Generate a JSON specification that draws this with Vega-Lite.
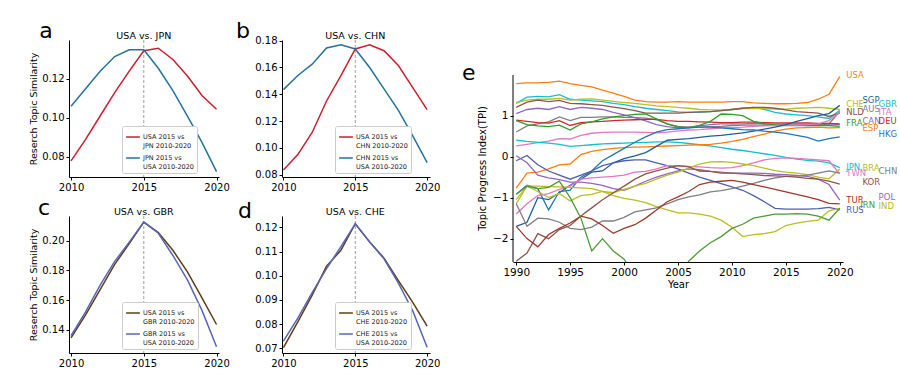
{
"$schema": "https://vega.github.io/schema/vega-lite/v6.json",
"padding": {"left": 28, "top": 19, "right": 2, "bottom": 2},
"config": {
  "font": "DejaVu Sans",
  "view": {"stroke": null},
  "axis": {"grid": false, "domainColor": "black", "tickColor": "black", "labelColor": "black", "titleColor": "black", "labelFontSize": 10, "titleFontSize": 9.5, "titleFontWeight": "normal", "tickSize": 3, "labelPadding": 2, "titlePadding": 3, "labelOverlap": false, "labelFlush": false, "tickCount": 12},
  "legend": {"orient": "none", "legendX": 53, "legendY": 86, "labelFontSize": 6.5, "symbolType": "stroke", "symbolStrokeWidth": 1.5, "symbolSize": 190, "strokeColor": "#cccccc", "fillColor": "white", "padding": 3, "rowPadding": 1, "labelOffset": 2, "cornerRadius": 2, "labelLimit": 200, "labelColor": "#222222"}
},
"resolve": {"scale": {"color": "independent", "x": "independent", "y": "independent"}, "legend": {"color": "independent"}},
"datasets": {
  "a": [
    {"s":"USA 2015 vs JPN 2010-2020","x":2010,"v":0.078},{"s":"USA 2015 vs JPN 2010-2020","x":2011,"v":0.089},{"s":"USA 2015 vs JPN 2010-2020","x":2012,"v":0.101},{"s":"USA 2015 vs JPN 2010-2020","x":2013,"v":0.113},{"s":"USA 2015 vs JPN 2010-2020","x":2014,"v":0.124},{"s":"USA 2015 vs JPN 2010-2020","x":2015,"v":0.1345},{"s":"USA 2015 vs JPN 2010-2020","x":2016,"v":0.1358},{"s":"USA 2015 vs JPN 2010-2020","x":2017,"v":0.130},{"s":"USA 2015 vs JPN 2010-2020","x":2018,"v":0.1215},{"s":"USA 2015 vs JPN 2010-2020","x":2019,"v":0.1115},{"s":"USA 2015 vs JPN 2010-2020","x":2020,"v":0.1045},
    {"s":"JPN 2015 vs USA 2010-2020","x":2010,"v":0.106},{"s":"JPN 2015 vs USA 2010-2020","x":2011,"v":0.115},{"s":"JPN 2015 vs USA 2010-2020","x":2012,"v":0.124},{"s":"JPN 2015 vs USA 2010-2020","x":2013,"v":0.1315},{"s":"JPN 2015 vs USA 2010-2020","x":2014,"v":0.135},{"s":"JPN 2015 vs USA 2010-2020","x":2015,"v":0.135},{"s":"JPN 2015 vs USA 2010-2020","x":2016,"v":0.1255},{"s":"JPN 2015 vs USA 2010-2020","x":2017,"v":0.114},{"s":"JPN 2015 vs USA 2010-2020","x":2018,"v":0.101},{"s":"JPN 2015 vs USA 2010-2020","x":2019,"v":0.0875},{"s":"JPN 2015 vs USA 2010-2020","x":2020,"v":0.0725}
  ],
  "b": [
    {"s":"USA 2015 vs CHN 2010-2020","x":2010,"v":0.0835},{"s":"USA 2015 vs CHN 2010-2020","x":2011,"v":0.095},{"s":"USA 2015 vs CHN 2010-2020","x":2012,"v":0.1115},{"s":"USA 2015 vs CHN 2010-2020","x":2013,"v":0.135},{"s":"USA 2015 vs CHN 2010-2020","x":2014,"v":0.154},{"s":"USA 2015 vs CHN 2010-2020","x":2015,"v":0.1738},{"s":"USA 2015 vs CHN 2010-2020","x":2016,"v":0.177},{"s":"USA 2015 vs CHN 2010-2020","x":2017,"v":0.1725},{"s":"USA 2015 vs CHN 2010-2020","x":2018,"v":0.1615},{"s":"USA 2015 vs CHN 2010-2020","x":2019,"v":0.145},{"s":"USA 2015 vs CHN 2010-2020","x":2020,"v":0.1285},
    {"s":"CHN 2015 vs USA 2010-2020","x":2010,"v":0.1435},{"s":"CHN 2015 vs USA 2010-2020","x":2011,"v":0.154},{"s":"CHN 2015 vs USA 2010-2020","x":2012,"v":0.1625},{"s":"CHN 2015 vs USA 2010-2020","x":2013,"v":0.1745},{"s":"CHN 2015 vs USA 2010-2020","x":2014,"v":0.177},{"s":"CHN 2015 vs USA 2010-2020","x":2015,"v":0.1738},{"s":"CHN 2015 vs USA 2010-2020","x":2016,"v":0.160},{"s":"CHN 2015 vs USA 2010-2020","x":2017,"v":0.144},{"s":"CHN 2015 vs USA 2010-2020","x":2018,"v":0.128},{"s":"CHN 2015 vs USA 2010-2020","x":2019,"v":0.109},{"s":"CHN 2015 vs USA 2010-2020","x":2020,"v":0.089}
  ],
  "c": [
    {"s":"USA 2015 vs GBR 2010-2020","x":2010,"v":0.1345},{"s":"USA 2015 vs GBR 2010-2020","x":2011,"v":0.150},{"s":"USA 2015 vs GBR 2010-2020","x":2012,"v":0.167},{"s":"USA 2015 vs GBR 2010-2020","x":2013,"v":0.184},{"s":"USA 2015 vs GBR 2010-2020","x":2014,"v":0.198},{"s":"USA 2015 vs GBR 2010-2020","x":2015,"v":0.2125},{"s":"USA 2015 vs GBR 2010-2020","x":2016,"v":0.2055},{"s":"USA 2015 vs GBR 2010-2020","x":2017,"v":0.1935},{"s":"USA 2015 vs GBR 2010-2020","x":2018,"v":0.179},{"s":"USA 2015 vs GBR 2010-2020","x":2019,"v":0.1615},{"s":"USA 2015 vs GBR 2010-2020","x":2020,"v":0.1435},
    {"s":"GBR 2015 vs USA 2010-2020","x":2010,"v":0.136},{"s":"GBR 2015 vs USA 2010-2020","x":2011,"v":0.152},{"s":"GBR 2015 vs USA 2010-2020","x":2012,"v":0.170},{"s":"GBR 2015 vs USA 2010-2020","x":2013,"v":0.186},{"s":"GBR 2015 vs USA 2010-2020","x":2014,"v":0.199},{"s":"GBR 2015 vs USA 2010-2020","x":2015,"v":0.2125},{"s":"GBR 2015 vs USA 2010-2020","x":2016,"v":0.205},{"s":"GBR 2015 vs USA 2010-2020","x":2017,"v":0.190},{"s":"GBR 2015 vs USA 2010-2020","x":2018,"v":0.1735},{"s":"GBR 2015 vs USA 2010-2020","x":2019,"v":0.153},{"s":"GBR 2015 vs USA 2010-2020","x":2020,"v":0.1285}
  ],
  "d": [
    {"s":"USA 2015 vs CHE 2010-2020","x":2010,"v":0.0703},{"s":"USA 2015 vs CHE 2010-2020","x":2011,"v":0.081},{"s":"USA 2015 vs CHE 2010-2020","x":2012,"v":0.092},{"s":"USA 2015 vs CHE 2010-2020","x":2013,"v":0.104},{"s":"USA 2015 vs CHE 2010-2020","x":2014,"v":0.1105},{"s":"USA 2015 vs CHE 2010-2020","x":2015,"v":0.1215},{"s":"USA 2015 vs CHE 2010-2020","x":2016,"v":0.114},{"s":"USA 2015 vs CHE 2010-2020","x":2017,"v":0.1073},{"s":"USA 2015 vs CHE 2010-2020","x":2018,"v":0.098},{"s":"USA 2015 vs CHE 2010-2020","x":2019,"v":0.089},{"s":"USA 2015 vs CHE 2010-2020","x":2020,"v":0.0792},
    {"s":"CHE 2015 vs USA 2010-2020","x":2010,"v":0.073},{"s":"CHE 2015 vs USA 2010-2020","x":2011,"v":0.0825},{"s":"CHE 2015 vs USA 2010-2020","x":2012,"v":0.093},{"s":"CHE 2015 vs USA 2010-2020","x":2013,"v":0.103},{"s":"CHE 2015 vs USA 2010-2020","x":2014,"v":0.112},{"s":"CHE 2015 vs USA 2010-2020","x":2015,"v":0.1215},{"s":"CHE 2015 vs USA 2010-2020","x":2016,"v":0.114},{"s":"CHE 2015 vs USA 2010-2020","x":2017,"v":0.107},{"s":"CHE 2015 vs USA 2010-2020","x":2018,"v":0.097},{"s":"CHE 2015 vs USA 2010-2020","x":2019,"v":0.0855},{"s":"CHE 2015 vs USA 2010-2020","x":2020,"v":0.0705}
  ],
  "e": [
    {"c":"USA","t":1990,"v":1.78},{"c":"USA","t":1991,"v":1.80},{"c":"USA","t":1992,"v":1.80},{"c":"USA","t":1993,"v":1.81},{"c":"USA","t":1994,"v":1.84},{"c":"USA","t":1995,"v":1.78},{"c":"USA","t":1996,"v":1.74},{"c":"USA","t":1997,"v":1.70},{"c":"USA","t":1998,"v":1.62},{"c":"USA","t":1999,"v":1.55},{"c":"USA","t":2000,"v":1.47},{"c":"USA","t":2001,"v":1.38},{"c":"USA","t":2002,"v":1.34},{"c":"USA","t":2003,"v":1.33},{"c":"USA","t":2004,"v":1.33},{"c":"USA","t":2005,"v":1.34},{"c":"USA","t":2006,"v":1.33},{"c":"USA","t":2007,"v":1.33},{"c":"USA","t":2008,"v":1.33},{"c":"USA","t":2009,"v":1.33},{"c":"USA","t":2010,"v":1.34},{"c":"USA","t":2011,"v":1.34},{"c":"USA","t":2012,"v":1.31},{"c":"USA","t":2013,"v":1.30},{"c":"USA","t":2014,"v":1.29},{"c":"USA","t":2015,"v":1.29},{"c":"USA","t":2016,"v":1.30},{"c":"USA","t":2017,"v":1.32},{"c":"USA","t":2018,"v":1.40},{"c":"USA","t":2019,"v":1.52},{"c":"USA","t":2020,"v":1.95},
    {"c":"GBR","t":1990,"v":1.30},{"c":"GBR","t":1991,"v":1.45},{"c":"GBR","t":1992,"v":1.47},{"c":"GBR","t":1993,"v":1.46},{"c":"GBR","t":1994,"v":1.51},{"c":"GBR","t":1995,"v":1.40},{"c":"GBR","t":1996,"v":1.38},{"c":"GBR","t":1997,"v":1.36},{"c":"GBR","t":1998,"v":1.34},{"c":"GBR","t":1999,"v":1.30},{"c":"GBR","t":2000,"v":1.27},{"c":"GBR","t":2001,"v":1.22},{"c":"GBR","t":2002,"v":1.18},{"c":"GBR","t":2003,"v":1.15},{"c":"GBR","t":2004,"v":1.12},{"c":"GBR","t":2005,"v":1.09},{"c":"GBR","t":2006,"v":1.08},{"c":"GBR","t":2007,"v":1.08},{"c":"GBR","t":2008,"v":1.10},{"c":"GBR","t":2009,"v":1.12},{"c":"GBR","t":2010,"v":1.15},{"c":"GBR","t":2011,"v":1.18},{"c":"GBR","t":2012,"v":1.20},{"c":"GBR","t":2013,"v":1.15},{"c":"GBR","t":2014,"v":1.08},{"c":"GBR","t":2015,"v":1.04},{"c":"GBR","t":2016,"v":1.02},{"c":"GBR","t":2017,"v":1.00},{"c":"GBR","t":2018,"v":0.97},{"c":"GBR","t":2019,"v":0.93},{"c":"GBR","t":2020,"v":1.13},
    {"c":"CHE","t":1990,"v":1.32},{"c":"CHE","t":1991,"v":1.38},{"c":"CHE","t":1992,"v":1.40},{"c":"CHE","t":1993,"v":1.40},{"c":"CHE","t":1994,"v":1.42},{"c":"CHE","t":1995,"v":1.38},{"c":"CHE","t":1996,"v":1.40},{"c":"CHE","t":1997,"v":1.41},{"c":"CHE","t":1998,"v":1.38},{"c":"CHE","t":1999,"v":1.35},{"c":"CHE","t":2000,"v":1.32},{"c":"CHE","t":2001,"v":1.30},{"c":"CHE","t":2002,"v":1.27},{"c":"CHE","t":2003,"v":1.24},{"c":"CHE","t":2004,"v":1.22},{"c":"CHE","t":2005,"v":1.20},{"c":"CHE","t":2006,"v":1.18},{"c":"CHE","t":2007,"v":1.15},{"c":"CHE","t":2008,"v":1.14},{"c":"CHE","t":2009,"v":1.14},{"c":"CHE","t":2010,"v":1.15},{"c":"CHE","t":2011,"v":1.17},{"c":"CHE","t":2012,"v":1.18},{"c":"CHE","t":2013,"v":1.17},{"c":"CHE","t":2014,"v":1.16},{"c":"CHE","t":2015,"v":1.16},{"c":"CHE","t":2016,"v":1.18},{"c":"CHE","t":2017,"v":1.19},{"c":"CHE","t":2018,"v":1.20},{"c":"CHE","t":2019,"v":1.18},{"c":"CHE","t":2020,"v":1.15},
    {"c":"NLD","t":1990,"v":1.20},{"c":"NLD","t":1991,"v":1.33},{"c":"NLD","t":1992,"v":1.38},{"c":"NLD","t":1993,"v":1.34},{"c":"NLD","t":1994,"v":1.37},{"c":"NLD","t":1995,"v":1.30},{"c":"NLD","t":1996,"v":1.29},{"c":"NLD","t":1997,"v":1.27},{"c":"NLD","t":1998,"v":1.25},{"c":"NLD","t":1999,"v":1.21},{"c":"NLD","t":2000,"v":1.17},{"c":"NLD","t":2001,"v":1.12},{"c":"NLD","t":2002,"v":1.06},{"c":"NLD","t":2003,"v":1.06},{"c":"NLD","t":2004,"v":1.06},{"c":"NLD","t":2005,"v":1.06},{"c":"NLD","t":2006,"v":1.08},{"c":"NLD","t":2007,"v":1.09},{"c":"NLD","t":2008,"v":1.10},{"c":"NLD","t":2009,"v":1.12},{"c":"NLD","t":2010,"v":1.15},{"c":"NLD","t":2011,"v":1.18},{"c":"NLD","t":2012,"v":1.20},{"c":"NLD","t":2013,"v":1.20},{"c":"NLD","t":2014,"v":1.18},{"c":"NLD","t":2015,"v":1.14},{"c":"NLD","t":2016,"v":1.10},{"c":"NLD","t":2017,"v":1.08},{"c":"NLD","t":2018,"v":1.06},{"c":"NLD","t":2019,"v":0.98},{"c":"NLD","t":2020,"v":1.06},
    {"c":"CAN","t":1990,"v":1.05},{"c":"CAN","t":1991,"v":1.15},{"c":"CAN","t":1992,"v":1.18},{"c":"CAN","t":1993,"v":1.15},{"c":"CAN","t":1994,"v":1.22},{"c":"CAN","t":1995,"v":1.15},{"c":"CAN","t":1996,"v":1.20},{"c":"CAN","t":1997,"v":1.18},{"c":"CAN","t":1998,"v":1.15},{"c":"CAN","t":1999,"v":1.08},{"c":"CAN","t":2000,"v":1.02},{"c":"CAN","t":2001,"v":0.95},{"c":"CAN","t":2002,"v":0.87},{"c":"CAN","t":2003,"v":0.78},{"c":"CAN","t":2004,"v":0.73},{"c":"CAN","t":2005,"v":0.70},{"c":"CAN","t":2006,"v":0.72},{"c":"CAN","t":2007,"v":0.75},{"c":"CAN","t":2008,"v":0.78},{"c":"CAN","t":2009,"v":0.80},{"c":"CAN","t":2010,"v":0.80},{"c":"CAN","t":2011,"v":0.80},{"c":"CAN","t":2012,"v":0.81},{"c":"CAN","t":2013,"v":0.80},{"c":"CAN","t":2014,"v":0.78},{"c":"CAN","t":2015,"v":0.77},{"c":"CAN","t":2016,"v":0.77},{"c":"CAN","t":2017,"v":0.78},{"c":"CAN","t":2018,"v":0.79},{"c":"CAN","t":2019,"v":0.80},{"c":"CAN","t":2020,"v":0.78},
    {"c":"AUS","t":1990,"v":0.60},{"c":"AUS","t":1991,"v":0.75},{"c":"AUS","t":1992,"v":0.80},{"c":"AUS","t":1993,"v":0.85},{"c":"AUS","t":1994,"v":0.97},{"c":"AUS","t":1995,"v":0.88},{"c":"AUS","t":1996,"v":0.96},{"c":"AUS","t":1997,"v":0.96},{"c":"AUS","t":1998,"v":0.97},{"c":"AUS","t":1999,"v":0.97},{"c":"AUS","t":2000,"v":0.96},{"c":"AUS","t":2001,"v":0.95},{"c":"AUS","t":2002,"v":0.94},{"c":"AUS","t":2003,"v":0.90},{"c":"AUS","t":2004,"v":0.80},{"c":"AUS","t":2005,"v":0.74},{"c":"AUS","t":2006,"v":0.72},{"c":"AUS","t":2007,"v":0.72},{"c":"AUS","t":2008,"v":0.73},{"c":"AUS","t":2009,"v":0.74},{"c":"AUS","t":2010,"v":0.76},{"c":"AUS","t":2011,"v":0.77},{"c":"AUS","t":2012,"v":0.77},{"c":"AUS","t":2013,"v":0.77},{"c":"AUS","t":2014,"v":0.76},{"c":"AUS","t":2015,"v":0.76},{"c":"AUS","t":2016,"v":0.76},{"c":"AUS","t":2017,"v":0.76},{"c":"AUS","t":2018,"v":0.77},{"c":"AUS","t":2019,"v":0.80},{"c":"AUS","t":2020,"v":1.10},
    {"c":"DEU","t":1990,"v":0.89},{"c":"DEU","t":1991,"v":0.86},{"c":"DEU","t":1992,"v":0.83},{"c":"DEU","t":1993,"v":0.82},{"c":"DEU","t":1994,"v":0.88},{"c":"DEU","t":1995,"v":0.76},{"c":"DEU","t":1996,"v":0.83},{"c":"DEU","t":1997,"v":0.85},{"c":"DEU","t":1998,"v":0.86},{"c":"DEU","t":1999,"v":0.88},{"c":"DEU","t":2000,"v":0.89},{"c":"DEU","t":2001,"v":0.90},{"c":"DEU","t":2002,"v":0.91},{"c":"DEU","t":2003,"v":0.91},{"c":"DEU","t":2004,"v":0.88},{"c":"DEU","t":2005,"v":0.86},{"c":"DEU","t":2006,"v":0.86},{"c":"DEU","t":2007,"v":0.85},{"c":"DEU","t":2008,"v":0.84},{"c":"DEU","t":2009,"v":0.83},{"c":"DEU","t":2010,"v":0.83},{"c":"DEU","t":2011,"v":0.84},{"c":"DEU","t":2012,"v":0.84},{"c":"DEU","t":2013,"v":0.83},{"c":"DEU","t":2014,"v":0.82},{"c":"DEU","t":2015,"v":0.82},{"c":"DEU","t":2016,"v":0.82},{"c":"DEU","t":2017,"v":0.82},{"c":"DEU","t":2018,"v":0.81},{"c":"DEU","t":2019,"v":0.81},{"c":"DEU","t":2020,"v":0.80},
    {"c":"FRA","t":1990,"v":0.88},{"c":"FRA","t":1991,"v":0.78},{"c":"FRA","t":1992,"v":0.75},{"c":"FRA","t":1993,"v":0.73},{"c":"FRA","t":1994,"v":0.77},{"c":"FRA","t":1995,"v":0.65},{"c":"FRA","t":1996,"v":0.80},{"c":"FRA","t":1997,"v":0.85},{"c":"FRA","t":1998,"v":0.92},{"c":"FRA","t":1999,"v":0.97},{"c":"FRA","t":2000,"v":1.00},{"c":"FRA","t":2001,"v":1.03},{"c":"FRA","t":2002,"v":1.04},{"c":"FRA","t":2003,"v":0.92},{"c":"FRA","t":2004,"v":0.80},{"c":"FRA","t":2005,"v":0.72},{"c":"FRA","t":2006,"v":0.70},{"c":"FRA","t":2007,"v":0.76},{"c":"FRA","t":2008,"v":0.86},{"c":"FRA","t":2009,"v":1.04},{"c":"FRA","t":2010,"v":1.03},{"c":"FRA","t":2011,"v":1.00},{"c":"FRA","t":2012,"v":0.86},{"c":"FRA","t":2013,"v":0.80},{"c":"FRA","t":2014,"v":0.78},{"c":"FRA","t":2015,"v":0.77},{"c":"FRA","t":2016,"v":0.77},{"c":"FRA","t":2017,"v":0.76},{"c":"FRA","t":2018,"v":0.76},{"c":"FRA","t":2019,"v":0.76},{"c":"FRA","t":2020,"v":0.74},
    {"c":"ITA","t":1990,"v":0.26},{"c":"ITA","t":1991,"v":0.30},{"c":"ITA","t":1992,"v":0.34},{"c":"ITA","t":1993,"v":0.38},{"c":"ITA","t":1994,"v":0.44},{"c":"ITA","t":1995,"v":0.43},{"c":"ITA","t":1996,"v":0.52},{"c":"ITA","t":1997,"v":0.57},{"c":"ITA","t":1998,"v":0.59},{"c":"ITA","t":1999,"v":0.60},{"c":"ITA","t":2000,"v":0.60},{"c":"ITA","t":2001,"v":0.60},{"c":"ITA","t":2002,"v":0.59},{"c":"ITA","t":2003,"v":0.58},{"c":"ITA","t":2004,"v":0.60},{"c":"ITA","t":2005,"v":0.63},{"c":"ITA","t":2006,"v":0.65},{"c":"ITA","t":2007,"v":0.66},{"c":"ITA","t":2008,"v":0.68},{"c":"ITA","t":2009,"v":0.70},{"c":"ITA","t":2010,"v":0.71},{"c":"ITA","t":2011,"v":0.72},{"c":"ITA","t":2012,"v":0.74},{"c":"ITA","t":2013,"v":0.75},{"c":"ITA","t":2014,"v":0.76},{"c":"ITA","t":2015,"v":0.77},{"c":"ITA","t":2016,"v":0.77},{"c":"ITA","t":2017,"v":0.78},{"c":"ITA","t":2018,"v":0.80},{"c":"ITA","t":2019,"v":0.88},{"c":"ITA","t":2020,"v":1.08},
    {"c":"JPN","t":1990,"v":0.40},{"c":"JPN","t":1991,"v":0.37},{"c":"JPN","t":1992,"v":0.35},{"c":"JPN","t":1993,"v":0.33},{"c":"JPN","t":1994,"v":0.30},{"c":"JPN","t":1995,"v":0.25},{"c":"JPN","t":1996,"v":0.27},{"c":"JPN","t":1997,"v":0.29},{"c":"JPN","t":1998,"v":0.31},{"c":"JPN","t":1999,"v":0.32},{"c":"JPN","t":2000,"v":0.33},{"c":"JPN","t":2001,"v":0.34},{"c":"JPN","t":2002,"v":0.35},{"c":"JPN","t":2003,"v":0.36},{"c":"JPN","t":2004,"v":0.36},{"c":"JPN","t":2005,"v":0.35},{"c":"JPN","t":2006,"v":0.32},{"c":"JPN","t":2007,"v":0.29},{"c":"JPN","t":2008,"v":0.26},{"c":"JPN","t":2009,"v":0.22},{"c":"JPN","t":2010,"v":0.18},{"c":"JPN","t":2011,"v":0.15},{"c":"JPN","t":2012,"v":0.11},{"c":"JPN","t":2013,"v":0.07},{"c":"JPN","t":2014,"v":0.03},{"c":"JPN","t":2015,"v":-0.02},{"c":"JPN","t":2016,"v":-0.06},{"c":"JPN","t":2017,"v":-0.09},{"c":"JPN","t":2018,"v":-0.11},{"c":"JPN","t":2019,"v":-0.15},{"c":"JPN","t":2020,"v":-0.27},
    {"c":"ESP","t":1990,"v":-0.77},{"c":"ESP","t":1991,"v":-0.40},{"c":"ESP","t":1992,"v":-0.38},{"c":"ESP","t":1993,"v":-0.30},{"c":"ESP","t":1994,"v":-0.20},{"c":"ESP","t":1995,"v":-0.18},{"c":"ESP","t":1996,"v":0.05},{"c":"ESP","t":1997,"v":0.13},{"c":"ESP","t":1998,"v":0.17},{"c":"ESP","t":1999,"v":0.20},{"c":"ESP","t":2000,"v":0.22},{"c":"ESP","t":2001,"v":0.23},{"c":"ESP","t":2002,"v":0.24},{"c":"ESP","t":2003,"v":0.25},{"c":"ESP","t":2004,"v":0.26},{"c":"ESP","t":2005,"v":0.27},{"c":"ESP","t":2006,"v":0.28},{"c":"ESP","t":2007,"v":0.29},{"c":"ESP","t":2008,"v":0.30},{"c":"ESP","t":2009,"v":0.33},{"c":"ESP","t":2010,"v":0.37},{"c":"ESP","t":2011,"v":0.42},{"c":"ESP","t":2012,"v":0.49},{"c":"ESP","t":2013,"v":0.55},{"c":"ESP","t":2014,"v":0.62},{"c":"ESP","t":2015,"v":0.67},{"c":"ESP","t":2016,"v":0.70},{"c":"ESP","t":2017,"v":0.71},{"c":"ESP","t":2018,"v":0.72},{"c":"ESP","t":2019,"v":0.70},{"c":"ESP","t":2020,"v":0.71},
    {"c":"SGP","t":1990,"v":-1.70},{"c":"SGP","t":1991,"v":-1.60},{"c":"SGP","t":1992,"v":-1.00},{"c":"SGP","t":1993,"v":-1.05},{"c":"SGP","t":1994,"v":-0.88},{"c":"SGP","t":1995,"v":-0.70},{"c":"SGP","t":1996,"v":-0.55},{"c":"SGP","t":1997,"v":-0.38},{"c":"SGP","t":1998,"v":-0.35},{"c":"SGP","t":1999,"v":-0.15},{"c":"SGP","t":2000,"v":-0.05},{"c":"SGP","t":2001,"v":0.02},{"c":"SGP","t":2002,"v":0.10},{"c":"SGP","t":2003,"v":0.25},{"c":"SGP","t":2004,"v":0.40},{"c":"SGP","t":2005,"v":0.42},{"c":"SGP","t":2006,"v":0.44},{"c":"SGP","t":2007,"v":0.47},{"c":"SGP","t":2008,"v":0.50},{"c":"SGP","t":2009,"v":0.52},{"c":"SGP","t":2010,"v":0.55},{"c":"SGP","t":2011,"v":0.58},{"c":"SGP","t":2012,"v":0.62},{"c":"SGP","t":2013,"v":0.67},{"c":"SGP","t":2014,"v":0.72},{"c":"SGP","t":2015,"v":0.78},{"c":"SGP","t":2016,"v":0.86},{"c":"SGP","t":2017,"v":0.93},{"c":"SGP","t":2018,"v":1.00},{"c":"SGP","t":2019,"v":1.05},{"c":"SGP","t":2020,"v":1.25},
    {"c":"HKG","t":1990,"v":-0.92},{"c":"HKG","t":1991,"v":-0.70},{"c":"HKG","t":1992,"v":-0.78},{"c":"HKG","t":1993,"v":-1.30},{"c":"HKG","t":1994,"v":-0.85},{"c":"HKG","t":1995,"v":-0.82},{"c":"HKG","t":1996,"v":-0.50},{"c":"HKG","t":1997,"v":-0.35},{"c":"HKG","t":1998,"v":-0.10},{"c":"HKG","t":1999,"v":0.05},{"c":"HKG","t":2000,"v":0.20},{"c":"HKG","t":2001,"v":0.35},{"c":"HKG","t":2002,"v":0.48},{"c":"HKG","t":2003,"v":0.60},{"c":"HKG","t":2004,"v":0.66},{"c":"HKG","t":2005,"v":0.68},{"c":"HKG","t":2006,"v":0.70},{"c":"HKG","t":2007,"v":0.72},{"c":"HKG","t":2008,"v":0.72},{"c":"HKG","t":2009,"v":0.70},{"c":"HKG","t":2010,"v":0.68},{"c":"HKG","t":2011,"v":0.66},{"c":"HKG","t":2012,"v":0.65},{"c":"HKG","t":2013,"v":0.62},{"c":"HKG","t":2014,"v":0.60},{"c":"HKG","t":2015,"v":0.57},{"c":"HKG","t":2016,"v":0.52},{"c":"HKG","t":2017,"v":0.47},{"c":"HKG","t":2018,"v":0.38},{"c":"HKG","t":2019,"v":0.44},{"c":"HKG","t":2020,"v":0.48},
    {"c":"RUS","t":1990,"v":-0.10},{"c":"RUS","t":1991,"v":0.03},{"c":"RUS","t":1992,"v":-0.20},{"c":"RUS","t":1993,"v":-0.35},{"c":"RUS","t":1994,"v":-0.45},{"c":"RUS","t":1995,"v":-0.55},{"c":"RUS","t":1996,"v":-0.45},{"c":"RUS","t":1997,"v":-0.35},{"c":"RUS","t":1998,"v":-0.22},{"c":"RUS","t":1999,"v":-0.15},{"c":"RUS","t":2000,"v":-0.10},{"c":"RUS","t":2001,"v":-0.08},{"c":"RUS","t":2002,"v":-0.08},{"c":"RUS","t":2003,"v":-0.15},{"c":"RUS","t":2004,"v":-0.22},{"c":"RUS","t":2005,"v":-0.30},{"c":"RUS","t":2006,"v":-0.40},{"c":"RUS","t":2007,"v":-0.50},{"c":"RUS","t":2008,"v":-0.58},{"c":"RUS","t":2009,"v":-0.66},{"c":"RUS","t":2010,"v":-0.74},{"c":"RUS","t":2011,"v":-0.82},{"c":"RUS","t":2012,"v":-0.95},{"c":"RUS","t":2013,"v":-1.10},{"c":"RUS","t":2014,"v":-1.26},{"c":"RUS","t":2015,"v":-1.28},{"c":"RUS","t":2016,"v":-1.28},{"c":"RUS","t":2017,"v":-1.28},{"c":"RUS","t":2018,"v":-1.27},{"c":"RUS","t":2019,"v":-1.24},{"c":"RUS","t":2020,"v":-1.30},
    {"c":"POL","t":1990,"v":0.02},{"c":"POL","t":1991,"v":-0.15},{"c":"POL","t":1992,"v":-0.45},{"c":"POL","t":1993,"v":-0.52},{"c":"POL","t":1994,"v":-0.56},{"c":"POL","t":1995,"v":-0.62},{"c":"POL","t":1996,"v":-0.62},{"c":"POL","t":1997,"v":-0.65},{"c":"POL","t":1998,"v":-0.70},{"c":"POL","t":1999,"v":-0.78},{"c":"POL","t":2000,"v":-0.82},{"c":"POL","t":2001,"v":-0.72},{"c":"POL","t":2002,"v":-0.60},{"c":"POL","t":2003,"v":-0.50},{"c":"POL","t":2004,"v":-0.42},{"c":"POL","t":2005,"v":-0.35},{"c":"POL","t":2006,"v":-0.30},{"c":"POL","t":2007,"v":-0.32},{"c":"POL","t":2008,"v":-0.36},{"c":"POL","t":2009,"v":-0.38},{"c":"POL","t":2010,"v":-0.40},{"c":"POL","t":2011,"v":-0.40},{"c":"POL","t":2012,"v":-0.40},{"c":"POL","t":2013,"v":-0.41},{"c":"POL","t":2014,"v":-0.43},{"c":"POL","t":2015,"v":-0.44},{"c":"POL","t":2016,"v":-0.46},{"c":"POL","t":2017,"v":-0.48},{"c":"POL","t":2018,"v":-0.55},{"c":"POL","t":2019,"v":-0.68},{"c":"POL","t":2020,"v":-1.06},
    {"c":"TWN","t":1990,"v":-1.40},{"c":"TWN","t":1991,"v":-1.15},{"c":"TWN","t":1992,"v":-0.95},{"c":"TWN","t":1993,"v":-0.90},{"c":"TWN","t":1994,"v":-0.80},{"c":"TWN","t":1995,"v":-0.72},{"c":"TWN","t":1996,"v":-0.55},{"c":"TWN","t":1997,"v":-0.52},{"c":"TWN","t":1998,"v":-0.50},{"c":"TWN","t":1999,"v":-0.48},{"c":"TWN","t":2000,"v":-0.45},{"c":"TWN","t":2001,"v":-0.38},{"c":"TWN","t":2002,"v":-0.36},{"c":"TWN","t":2003,"v":-0.30},{"c":"TWN","t":2004,"v":-0.22},{"c":"TWN","t":2005,"v":-0.22},{"c":"TWN","t":2006,"v":-0.24},{"c":"TWN","t":2007,"v":-0.25},{"c":"TWN","t":2008,"v":-0.27},{"c":"TWN","t":2009,"v":-0.28},{"c":"TWN","t":2010,"v":-0.27},{"c":"TWN","t":2011,"v":-0.22},{"c":"TWN","t":2012,"v":-0.15},{"c":"TWN","t":2013,"v":-0.08},{"c":"TWN","t":2014,"v":-0.04},{"c":"TWN","t":2015,"v":-0.03},{"c":"TWN","t":2016,"v":-0.04},{"c":"TWN","t":2017,"v":-0.06},{"c":"TWN","t":2018,"v":-0.08},{"c":"TWN","t":2019,"v":-0.10},{"c":"TWN","t":2020,"v":-0.42},
    {"c":"BRA","t":1990,"v":-1.05},{"c":"BRA","t":1991,"v":-0.72},{"c":"BRA","t":1992,"v":-0.85},{"c":"BRA","t":1993,"v":-1.00},{"c":"BRA","t":1994,"v":-0.90},{"c":"BRA","t":1995,"v":-1.08},{"c":"BRA","t":1996,"v":-0.95},{"c":"BRA","t":1997,"v":-0.92},{"c":"BRA","t":1998,"v":-0.85},{"c":"BRA","t":1999,"v":-0.88},{"c":"BRA","t":2000,"v":-0.80},{"c":"BRA","t":2001,"v":-0.72},{"c":"BRA","t":2002,"v":-0.65},{"c":"BRA","t":2003,"v":-0.55},{"c":"BRA","t":2004,"v":-0.45},{"c":"BRA","t":2005,"v":-0.38},{"c":"BRA","t":2006,"v":-0.28},{"c":"BRA","t":2007,"v":-0.18},{"c":"BRA","t":2008,"v":-0.13},{"c":"BRA","t":2009,"v":-0.12},{"c":"BRA","t":2010,"v":-0.14},{"c":"BRA","t":2011,"v":-0.18},{"c":"BRA","t":2012,"v":-0.22},{"c":"BRA","t":2013,"v":-0.28},{"c":"BRA","t":2014,"v":-0.34},{"c":"BRA","t":2015,"v":-0.38},{"c":"BRA","t":2016,"v":-0.40},{"c":"BRA","t":2017,"v":-0.44},{"c":"BRA","t":2018,"v":-0.50},{"c":"BRA","t":2019,"v":-0.54},{"c":"BRA","t":2020,"v":-0.30},
    {"c":"IND","t":1990,"v":-1.15},{"c":"IND","t":1991,"v":-0.72},{"c":"IND","t":1992,"v":-0.72},{"c":"IND","t":1993,"v":-0.73},{"c":"IND","t":1994,"v":-0.74},{"c":"IND","t":1995,"v":-0.75},{"c":"IND","t":1996,"v":-0.76},{"c":"IND","t":1997,"v":-0.78},{"c":"IND","t":1998,"v":-0.85},{"c":"IND","t":1999,"v":-0.95},{"c":"IND","t":2000,"v":-1.02},{"c":"IND","t":2001,"v":-1.06},{"c":"IND","t":2002,"v":-1.12},{"c":"IND","t":2003,"v":-1.22},{"c":"IND","t":2004,"v":-1.30},{"c":"IND","t":2005,"v":-1.37},{"c":"IND","t":2006,"v":-1.37},{"c":"IND","t":2007,"v":-1.40},{"c":"IND","t":2008,"v":-1.45},{"c":"IND","t":2009,"v":-1.55},{"c":"IND","t":2010,"v":-1.72},{"c":"IND","t":2011,"v":-1.95},{"c":"IND","t":2012,"v":-1.90},{"c":"IND","t":2013,"v":-1.88},{"c":"IND","t":2014,"v":-1.83},{"c":"IND","t":2015,"v":-1.68},{"c":"IND","t":2016,"v":-1.62},{"c":"IND","t":2017,"v":-1.58},{"c":"IND","t":2018,"v":-1.55},{"c":"IND","t":2019,"v":-1.32},{"c":"IND","t":2020,"v":-1.26},
    {"c":"CHN","t":1990,"v":-1.15},{"c":"CHN","t":1991,"v":-1.70},{"c":"CHN","t":1992,"v":-1.50},{"c":"CHN","t":1993,"v":-1.52},{"c":"CHN","t":1994,"v":-1.60},{"c":"CHN","t":1995,"v":-1.75},{"c":"CHN","t":1996,"v":-1.78},{"c":"CHN","t":1997,"v":-1.72},{"c":"CHN","t":1998,"v":-1.57},{"c":"CHN","t":1999,"v":-1.57},{"c":"CHN","t":2000,"v":-1.48},{"c":"CHN","t":2001,"v":-1.35},{"c":"CHN","t":2002,"v":-1.30},{"c":"CHN","t":2003,"v":-1.25},{"c":"CHN","t":2004,"v":-1.15},{"c":"CHN","t":2005,"v":-1.05},{"c":"CHN","t":2006,"v":-0.98},{"c":"CHN","t":2007,"v":-0.93},{"c":"CHN","t":2008,"v":-0.86},{"c":"CHN","t":2009,"v":-0.83},{"c":"CHN","t":2010,"v":-0.78},{"c":"CHN","t":2011,"v":-0.72},{"c":"CHN","t":2012,"v":-0.65},{"c":"CHN","t":2013,"v":-0.58},{"c":"CHN","t":2014,"v":-0.52},{"c":"CHN","t":2015,"v":-0.48},{"c":"CHN","t":2016,"v":-0.47},{"c":"CHN","t":2017,"v":-0.45},{"c":"CHN","t":2018,"v":-0.40},{"c":"CHN","t":2019,"v":-0.35},{"c":"CHN","t":2020,"v":-0.40},
    {"c":"KOR","t":1990,"v":-2.55},{"c":"KOR","t":1991,"v":-2.35},{"c":"KOR","t":1992,"v":-1.88},{"c":"KOR","t":1993,"v":-2.00},{"c":"KOR","t":1994,"v":-1.78},{"c":"KOR","t":1995,"v":-1.68},{"c":"KOR","t":1996,"v":-1.45},{"c":"KOR","t":1997,"v":-1.25},{"c":"KOR","t":1998,"v":-1.05},{"c":"KOR","t":1999,"v":-0.88},{"c":"KOR","t":2000,"v":-0.72},{"c":"KOR","t":2001,"v":-0.55},{"c":"KOR","t":2002,"v":-0.42},{"c":"KOR","t":2003,"v":-0.35},{"c":"KOR","t":2004,"v":-0.28},{"c":"KOR","t":2005,"v":-0.22},{"c":"KOR","t":2006,"v":-0.25},{"c":"KOR","t":2007,"v":-0.35},{"c":"KOR","t":2008,"v":-0.36},{"c":"KOR","t":2009,"v":-0.40},{"c":"KOR","t":2010,"v":-0.40},{"c":"KOR","t":2011,"v":-0.42},{"c":"KOR","t":2012,"v":-0.44},{"c":"KOR","t":2013,"v":-0.46},{"c":"KOR","t":2014,"v":-0.47},{"c":"KOR","t":2015,"v":-0.48},{"c":"KOR","t":2016,"v":-0.50},{"c":"KOR","t":2017,"v":-0.53},{"c":"KOR","t":2018,"v":-0.55},{"c":"KOR","t":2019,"v":-0.60},{"c":"KOR","t":2020,"v":-0.67},
    {"c":"TUR","t":1990,"v":-1.70},{"c":"TUR","t":1991,"v":-2.00},{"c":"TUR","t":1992,"v":-2.20},{"c":"TUR","t":1993,"v":-1.90},{"c":"TUR","t":1994,"v":-1.75},{"c":"TUR","t":1995,"v":-1.62},{"c":"TUR","t":1996,"v":-1.45},{"c":"TUR","t":1997,"v":-1.52},{"c":"TUR","t":1998,"v":-1.68},{"c":"TUR","t":1999,"v":-1.87},{"c":"TUR","t":2000,"v":-1.75},{"c":"TUR","t":2001,"v":-1.66},{"c":"TUR","t":2002,"v":-1.50},{"c":"TUR","t":2003,"v":-1.30},{"c":"TUR","t":2004,"v":-1.10},{"c":"TUR","t":2005,"v":-0.98},{"c":"TUR","t":2006,"v":-0.85},{"c":"TUR","t":2007,"v":-0.68},{"c":"TUR","t":2008,"v":-0.62},{"c":"TUR","t":2009,"v":-0.60},{"c":"TUR","t":2010,"v":-0.58},{"c":"TUR","t":2011,"v":-0.62},{"c":"TUR","t":2012,"v":-0.68},{"c":"TUR","t":2013,"v":-0.74},{"c":"TUR","t":2014,"v":-0.80},{"c":"TUR","t":2015,"v":-0.86},{"c":"TUR","t":2016,"v":-0.92},{"c":"TUR","t":2017,"v":-0.98},{"c":"TUR","t":2018,"v":-1.05},{"c":"TUR","t":2019,"v":-1.14},{"c":"TUR","t":2020,"v":-1.15},
    {"c":"IRN","t":1990,"v":-0.92},{"c":"IRN","t":1991,"v":-0.72},{"c":"IRN","t":1992,"v":-0.78},{"c":"IRN","t":1993,"v":-0.75},{"c":"IRN","t":1994,"v":-0.60},{"c":"IRN","t":1995,"v":-1.00},{"c":"IRN","t":1996,"v":-1.50},{"c":"IRN","t":1997,"v":-2.30},{"c":"IRN","t":1998,"v":-2.00},{"c":"IRN","t":1999,"v":-2.30},{"c":"IRN","t":2000,"v":-2.50},{"c":"IRN","t":2001,"v":-2.90},{"c":"IRN","t":2002,"v":-3.30},{"c":"IRN","t":2003,"v":-3.50},{"c":"IRN","t":2004,"v":-3.30},{"c":"IRN","t":2005,"v":-2.90},{"c":"IRN","t":2006,"v":-2.55},{"c":"IRN","t":2007,"v":-2.30},{"c":"IRN","t":2008,"v":-2.10},{"c":"IRN","t":2009,"v":-1.95},{"c":"IRN","t":2010,"v":-1.75},{"c":"IRN","t":2011,"v":-1.65},{"c":"IRN","t":2012,"v":-1.50},{"c":"IRN","t":2013,"v":-1.45},{"c":"IRN","t":2014,"v":-1.40},{"c":"IRN","t":2015,"v":-1.40},{"c":"IRN","t":2016,"v":-1.39},{"c":"IRN","t":2017,"v":-1.40},{"c":"IRN","t":2018,"v":-1.45},{"c":"IRN","t":2019,"v":-1.55},{"c":"IRN","t":2020,"v":-1.26}
  ],
  "elab": [
    {"c":"USA","t":2020.6,"v":2.00},{"c":"SGP","t":2022.1,"v":1.38},{"c":"GBR","t":2023.6,"v":1.28},{"c":"CHE","t":2020.6,"v":1.28},{"c":"NLD","t":2020.6,"v":1.10},{"c":"AUS","t":2022.1,"v":1.16},{"c":"ITA","t":2023.6,"v":1.10},{"c":"FRA","t":2020.6,"v":0.83},{"c":"CAN","t":2022.1,"v":0.86},{"c":"DEU","t":2023.6,"v":0.86},{"c":"ESP","t":2022.1,"v":0.70},{"c":"HKG","t":2023.6,"v":0.55},{"c":"JPN","t":2020.6,"v":-0.25},{"c":"BRA","t":2022.1,"v":-0.27},{"c":"CHN","t":2023.6,"v":-0.36},{"c":"TWN","t":2020.6,"v":-0.39},{"c":"KOR","t":2022.1,"v":-0.61},{"c":"POL","t":2023.6,"v":-0.98},{"c":"TUR","t":2020.6,"v":-1.06},{"c":"IRN","t":2021.9,"v":-1.18},{"c":"IND","t":2023.6,"v":-1.20},{"c":"RUS","t":2020.6,"v":-1.29}
  ]
},
"hconcat": [
  {
    "resolve": {"scale": {"color": "independent", "x": "independent", "y": "independent"}, "legend": {"color": "independent"}},
    "concat": [
      {
        "width": 150, "height": 137,
        "layer": [
          {"data": {"values": [{"x": 2015}]}, "mark": {"type": "rule", "color": "#888888", "strokeDash": [3, 2], "strokeWidth": 0.8}, "encoding": {"x": {"field": "x", "type": "quantitative"}}},
          {"data": {"name": "a"}, "mark": {"type": "line", "strokeWidth": 1.5}, "encoding": {
            "x": {"field": "x", "type": "quantitative", "scale": {"domain": [2009.86, 2020.17], "nice": false, "zero": false}, "axis": {"values": [2010, 2015, 2020], "format": "d", "title": null}},
            "y": {"field": "v", "type": "quantitative", "scale": {"domain": [0.0697, 0.14], "nice": false, "zero": false}, "axis": {"values": [0.08, 0.10, 0.12], "format": ".2f", "title": "Reserch Topic Similarity"}},
            "color": {"field": "s", "type": "nominal", "scale": {"domain": ["USA 2015 vs JPN 2010-2020", "JPN 2015 vs USA 2010-2020"], "range": ["#cc1f2f", "#24739f"]}, "legend": {"title": null, "labelExpr": "[slice(datum.label, 0, 11), slice(datum.label, 12)]"}}}},
          {"data": {"values": [{"t": "a"}]}, "mark": {"type": "text", "fontSize": 22, "align": "center"}, "encoding": {"x": {"datum": 2008.28}, "y": {"datum": 0.1446}, "text": {"field": "t"}}},
          {"data": {"values": [{"t": "USA vs. JPN"}]}, "mark": {"type": "text", "fontSize": 9.5, "align": "center"}, "encoding": {"x": {"datum": 2015}, "y": {"datum": 0.1421}, "text": {"field": "t"}}}
        ]
      },
      {
        "width": 148, "height": 137,
        "layer": [
          {"data": {"values": [{"x": 2015}]}, "mark": {"type": "rule", "color": "#888888", "strokeDash": [3, 2], "strokeWidth": 0.8}, "encoding": {"x": {"field": "x", "type": "quantitative"}}},
          {"data": {"name": "b"}, "mark": {"type": "line", "strokeWidth": 1.5}, "encoding": {
            "x": {"field": "x", "type": "quantitative", "scale": {"domain": [2009.9, 2020.2], "nice": false, "zero": false}, "axis": {"values": [2010, 2015, 2020], "format": "d", "title": null}},
            "y": {"field": "v", "type": "quantitative", "scale": {"domain": [0.0783, 0.1805], "nice": false, "zero": false}, "axis": {"values": [0.08, 0.10, 0.12, 0.14, 0.16, 0.18], "format": ".2f", "title": null, "tickCount": 12}},
            "color": {"field": "s", "type": "nominal", "scale": {"domain": ["USA 2015 vs CHN 2010-2020", "CHN 2015 vs USA 2010-2020"], "range": ["#cc1f2f", "#24739f"]}, "legend": {"title": null, "labelExpr": "[slice(datum.label, 0, 11), slice(datum.label, 12)]"}}}},
          {"data": {"values": [{"t": "b"}]}, "mark": {"type": "text", "fontSize": 22, "align": "center"}, "encoding": {"x": {"datum": 2007.19}, "y": {"datum": 0.1874}, "text": {"field": "t"}}},
          {"data": {"values": [{"t": "USA vs. CHN"}]}, "mark": {"type": "text", "fontSize": 9.5, "align": "center"}, "encoding": {"x": {"datum": 2015}, "y": {"datum": 0.1838}, "text": {"field": "t"}}}
        ]
      },
      {
        "width": 150, "height": 137,
        "layer": [
          {"data": {"values": [{"x": 2015}]}, "mark": {"type": "rule", "color": "#888888", "strokeDash": [3, 2], "strokeWidth": 0.8}, "encoding": {"x": {"field": "x", "type": "quantitative"}}},
          {"data": {"name": "c"}, "mark": {"type": "line", "strokeWidth": 1.5}, "encoding": {
            "x": {"field": "x", "type": "quantitative", "scale": {"domain": [2009.86, 2020.17], "nice": false, "zero": false}, "axis": {"values": [2010, 2015, 2020], "format": "d", "title": null}},
            "y": {"field": "v", "type": "quantitative", "scale": {"domain": [0.1243, 0.2166], "nice": false, "zero": false}, "axis": {"values": [0.14, 0.16, 0.18, 0.20], "format": ".2f", "title": "Reserch Topic Similarity"}},
            "color": {"field": "s", "type": "nominal", "scale": {"domain": ["USA 2015 vs GBR 2010-2020", "GBR 2015 vs USA 2010-2020"], "range": ["#5e3f14", "#5866b8"]}, "legend": {"title": null, "labelExpr": "[slice(datum.label, 0, 11), slice(datum.label, 12)]"}}}},
          {"data": {"values": [{"t": "c"}]}, "mark": {"type": "text", "fontSize": 22, "align": "center"}, "encoding": {"x": {"datum": 2008.14}, "y": {"datum": 0.222}, "text": {"field": "t"}}},
          {"data": {"values": [{"t": "USA vs. GBR"}]}, "mark": {"type": "text", "fontSize": 9.5, "align": "center"}, "encoding": {"x": {"datum": 2015}, "y": {"datum": 0.2193}, "text": {"field": "t"}}}
        ]
      },
      {
        "width": 148, "height": 137,
        "layer": [
          {"data": {"values": [{"x": 2015}]}, "mark": {"type": "rule", "color": "#888888", "strokeDash": [3, 2], "strokeWidth": 0.8}, "encoding": {"x": {"field": "x", "type": "quantitative"}}},
          {"data": {"name": "d"}, "mark": {"type": "line", "strokeWidth": 1.5}, "encoding": {
            "x": {"field": "x", "type": "quantitative", "scale": {"domain": [2009.9, 2020.2], "nice": false, "zero": false}, "axis": {"values": [2010, 2015, 2020], "format": "d", "title": null}},
            "y": {"field": "v", "type": "quantitative", "scale": {"domain": [0.0681, 0.1247], "nice": false, "zero": false}, "axis": {"values": [0.07, 0.08, 0.09, 0.10, 0.11, 0.12], "format": ".2f", "title": null, "tickCount": 12}},
            "color": {"field": "s", "type": "nominal", "scale": {"domain": ["USA 2015 vs CHE 2010-2020", "CHE 2015 vs USA 2010-2020"], "range": ["#5e3f14", "#5866b8"]}, "legend": {"title": null, "labelExpr": "[slice(datum.label, 0, 11), slice(datum.label, 12)]"}}}},
          {"data": {"values": [{"t": "d"}]}, "mark": {"type": "text", "fontSize": 22, "align": "center"}, "encoding": {"x": {"datum": 2007.33}, "y": {"datum": 0.1269}, "text": {"field": "t"}}},
          {"data": {"values": [{"t": "USA vs. CHE"}]}, "mark": {"type": "text", "fontSize": 9.5, "align": "center"}, "encoding": {"x": {"datum": 2015}, "y": {"datum": 0.1262}, "text": {"field": "t"}}}
        ]
      }
    ],
    "columns": 2,
    "spacing": {"row": 39, "column": 63},
    "bounds": "flush"
  },
  {
    "width": 330, "height": 222,
    "layer": [
      {"data": {"values": [{}]}, "mark": {"type": "rule", "color": "black", "strokeWidth": 1}, "encoding": {"x": {"datum": 1989.7}, "y": {"datum": -2.57}, "y2": {"datum": 1.99}}},
      {"data": {"name": "e"}, "mark": {"type": "line", "strokeWidth": 1.3, "clip": true}, "encoding": {
        "x": {"field": "t", "type": "quantitative", "scale": {"domain": [1989.7, 2020.3], "nice": false, "zero": false}, "axis": {"values": [1990, 1995, 2000, 2005, 2010, 2015, 2020], "format": "d", "title": "Year", "labelFontSize": 10.5, "titleFontSize": 10, "titlePadding": 2}},
        "y": {"field": "v", "type": "quantitative", "scale": {"domain": [-2.57, 2.845], "nice": false, "zero": false}, "axis": {"values": [-2, -1, 0, 1], "format": "d", "title": "Topic Progress Index(TPI)", "domain": false, "labelFontSize": 10.5, "titleFontSize": 10, "titlePadding": 5, "titleY": 128}},
        "color": {"field": "c", "type": "nominal", "scale": {"domain": ["USA","GBR","CHE","NLD","CAN","AUS","DEU","FRA","ITA","JPN","ESP","SGP","HKG","RUS","POL","TWN","BRA","IND","CHN","KOR","TUR","IRN"], "range": ["#ff7f0e","#17becf","#bcbd22","#8c564b","#9467bd","#7f7f7f","#d62728","#2ca02c","#e377c2","#17becf","#ff7f0e","#1f5f99","#1f77b4","#4e5fb0","#9467bd","#e377c2","#bcbd22","#bcbd22","#7f7f7f","#8c564b","#a0392b","#4f9a35"]}, "legend": null}}},
      {"data": {"name": "elab"}, "mark": {"type": "text", "align": "left", "baseline": "middle", "fontSize": 8.5}, "encoding": {
        "x": {"field": "t", "type": "quantitative"},
        "y": {"field": "v", "type": "quantitative"},
        "text": {"field": "c"},
        "color": {"field": "c", "type": "nominal", "legend": null}}},
      {"data": {"values": [{"t": "e"}]}, "mark": {"type": "text", "fontSize": 22, "align": "left"}, "encoding": {"x": {"datum": 1984.97}, "y": {"datum": 2.05}, "text": {"field": "t"}}}
    ]
  }
],
"spacing": 21
}
